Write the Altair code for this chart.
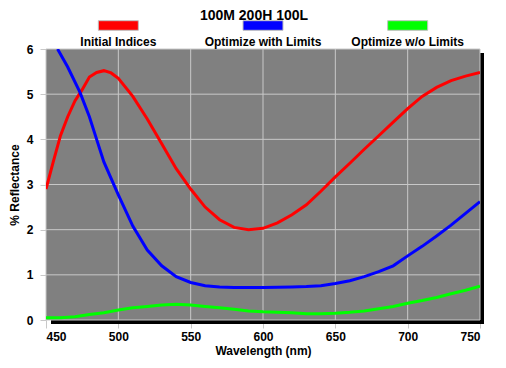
import altair as alt
import pandas as pd

title_text = "100M 200H 100L"
series_names = ["Initial Indices", "Optimize with Limits", "Optimize w/o Limits"]
series_colors = ["#ff0000", "#0000ff", "#00ff00"]

wl_red = [450, 455, 460, 465, 470, 475, 480, 485, 490, 495, 500, 510, 520, 530, 540, 550, 560,
          570, 580, 590, 600, 610, 620, 630, 640, 650, 660, 670, 680, 690, 700, 710, 720, 730, 740, 750]
val_red = [2.9, 3.5, 4.08, 4.5, 4.85, 5.1, 5.38, 5.48, 5.52, 5.47, 5.35, 4.95, 4.45, 3.9, 3.35, 2.9, 2.5,
           2.22, 2.05, 2.0, 2.03, 2.15, 2.33, 2.55, 2.85, 3.17, 3.47, 3.78, 4.08, 4.38, 4.68, 4.95, 5.15, 5.3, 5.4, 5.48]

wl_blue = [458, 465, 473.5, 480, 485, 490, 500, 510, 520, 530, 540, 550, 560, 570, 580, 600, 620, 630,
           640, 650, 660, 670, 680, 690, 700, 710, 720, 730, 740, 750]
val_blue = [6.0, 5.6, 5.04, 4.5, 4.0, 3.5, 2.77, 2.08, 1.55, 1.2, 0.96, 0.83, 0.76, 0.73, 0.72, 0.72, 0.73, 0.74,
            0.76, 0.81, 0.87, 0.96, 1.07, 1.2, 1.42, 1.63, 1.86, 2.1, 2.36, 2.62]

wl_green = [450, 460, 470, 480, 490, 500, 510, 520, 530, 540, 550, 560, 570, 580, 590, 600, 610, 620,
            630, 640, 650, 660, 670, 680, 690, 700, 710, 720, 730, 740, 750]
val_green = [0.05, 0.05, 0.07, 0.12, 0.16, 0.22, 0.27, 0.3, 0.33, 0.35, 0.33, 0.3, 0.27, 0.24, 0.2, 0.18, 0.17, 0.16,
             0.14, 0.14, 0.15, 0.17, 0.2, 0.25, 0.3, 0.37, 0.43, 0.5, 0.58, 0.66, 0.75]

x_ticks = [450, 500, 550, 600, 650, 700, 750]
y_ticks = [0, 1, 2, 3, 4, 5, 6]

FONT = "Liberation Sans"
GRID = "#c8c8c8"
PLOT_BG = "#808080"

rows = []
for name, wl, vals in [(series_names[0], wl_red, val_red),
                       (series_names[1], wl_blue, val_blue),
                       (series_names[2], wl_green, val_green)]:
    for w, v in zip(wl, vals):
        rows.append({"series": name, "wl": w, "val": v})
df = pd.DataFrame(rows)
legend_df = pd.DataFrame({"series": series_names, "idx": list(range(len(series_names)))})
xgrid_df = pd.DataFrame({"wl": x_ticks})
ygrid_df = pd.DataFrame({"val": y_ticks})

W, H = 434, 271
xscale = alt.Scale(domain=[450, 750], nice=False, zero=False)
yscale = alt.Scale(domain=[0, 6], nice=False)
color_scale = alt.Scale(domain=series_names, range=series_colors)

yaxis = alt.Axis(values=y_ticks, grid=False, domain=False, tickColor=GRID, tickSize=6,
                 labelFont=FONT, labelFontSize=12, labelFontWeight="bold", labelColor="black",
                 labelPadding=7, title="% Reflectance", titleFont=FONT, titleFontSize=12,
                 titleFontWeight="bold", titleColor="black", titlePadding=5)

one = legend_df.head(1)
shadow = alt.Chart(one).mark_rect(color="black").encode(
    x=alt.value(5), x2=alt.value(W + 4), y=alt.value(4), y2=alt.value(H + 4))
plotbg = alt.Chart(one).mark_rect(color=PLOT_BG).encode(
    x=alt.value(0), x2=alt.value(W), y=alt.value(0), y2=alt.value(H))

vgrid = alt.Chart(xgrid_df).mark_rule(color=GRID, strokeWidth=1).encode(
    x=alt.X("wl:Q", scale=xscale,
            axis=alt.Axis(values=x_ticks, grid=False, domain=False, tickColor=GRID, tickSize=8,
                          labelFont=FONT, labelFontSize=12, labelFontWeight="bold", labelColor="black",
                          labelPadding=3, title="Wavelength (nm)", titleFont=FONT, titleFontSize=12,
                          titleFontWeight="bold", titleColor="black", titlePadding=3)))
hgrid = alt.Chart(ygrid_df).mark_rule(color=GRID, strokeWidth=1).encode(
    y=alt.Y("val:Q", scale=yscale, axis=yaxis))

lines = alt.Chart(df).mark_line(strokeWidth=3, clip=True).encode(
    x=alt.X("wl:Q", scale=xscale, axis=None),
    y=alt.Y("val:Q", scale=yscale, axis=yaxis),
    color=alt.Color("series:N", scale=color_scale, legend=None),
    order=alt.Order("wl:Q"),
)

leg_x = alt.X("idx:Q", scale=alt.Scale(domain=[-0.5, len(series_names) - 0.5], nice=False, zero=False), axis=None)
leg_sym = alt.Chart(legend_df).mark_point(
    shape="M-1,-0.24H1V0.24H-1Z", filled=True, size=1600, opacity=1,
    stroke="#c0c0c0", strokeWidth=1).encode(
    x=leg_x, y=alt.value(-23.5),
    fill=alt.Fill("series:N", scale=color_scale, legend=None))
leg_txt = alt.Chart(legend_df).mark_text(
    font=FONT, fontSize=12, fontWeight="bold", color="black", baseline="alphabetic", align="center").encode(
    x=leg_x, y=alt.value(-3.5), text="series:N")
title_mark = alt.Chart(one).mark_text(
    font=FONT, fontSize=14, fontWeight="bold", color="black", baseline="alphabetic", align="center").encode(
    x=alt.value(W / 2 - 9), y=alt.value(-29), text=alt.value(title_text))

chart = alt.layer(shadow, plotbg, vgrid, hgrid, lines, leg_sym, leg_txt, title_mark).resolve_scale(
    x="independent", fill="independent"
).properties(
    width=W, height=H,
    autosize=alt.AutoSizeParams(type="none"),
    padding={"left": 38, "top": 41, "right": 18, "bottom": 40},
    background="white",
).configure_view(stroke=None)

chart.save("out.html", embed_options={"renderer": "svg", "actions": False})
